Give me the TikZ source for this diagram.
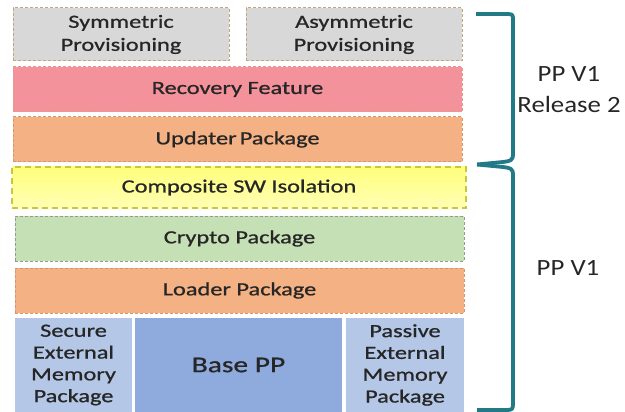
\documentclass[tikz,border=0pt]{standalone}
\usepackage{fontspec}
\newfontfamily\boxfont{Carlito}[FakeStretch=1.31, FakeBold=0.9]
\newfontfamily\sidefont{Carlito}[FakeStretch=1.15]
\definecolor{txt}{HTML}{262626}
\definecolor{grayfill}{HTML}{D8D8D8}
\definecolor{grayedge}{HTML}{C4A67C}
\definecolor{pinkfill}{HTML}{F4929C}
\definecolor{pinkedge}{HTML}{E39A86}
\definecolor{orangefill}{HTML}{F4B183}
\definecolor{orangeedge}{HTML}{D8946A}
\definecolor{yeltop}{HTML}{FFFF7C}
\definecolor{yelbot}{HTML}{FFFFB4}
\definecolor{yeledge}{HTML}{C8C83C}
\definecolor{greenfill}{HTML}{C6E0B6}
\definecolor{greenedge}{HTML}{8E9E8C}
\definecolor{lightblue}{HTML}{B4C7E7}
\definecolor{midblue}{HTML}{8FAADC}
\definecolor{teal}{HTML}{217A86}
\tikzset{
  layer/.style={rectangle, inner sep=0pt, line width=1pt,
    dash pattern=on 3pt off 2pt, text=txt, align=center,
    font=\boxfont\fontsize{18.6}{23}\selectfont},
  graybox/.style={layer, fill=grayfill, draw=grayedge},
  pinkbox/.style={layer, fill=pinkfill, draw=pinkedge},
  orangebox/.style={layer, fill=orangefill, draw=orangeedge},
  yellowbox/.style={layer, top color=yeltop, bottom color=yelbot, draw=yeledge,
    line width=1.5pt, dash pattern=on 6pt off 4pt},
  greenbox/.style={layer, fill=greenfill, draw=greenedge},
  membox/.style={rectangle, inner sep=0pt, text=txt, align=center,
    font=\boxfont\fontsize{18.6}{21.8}\selectfont},
  sidelabel/.style={text=txt, align=center, inner sep=0pt,
    font=\sidefont\fontsize{23.3}{31}\selectfont},
  bracket/.style={draw=teal, line width=3.8pt, line cap=butt, line join=round}
}
\begin{document}
\begin{tikzpicture}[x=1pt, y=-1pt]
\useasboundingbox (0,0) rectangle (625,412);
% top row
\node[graybox, minimum width=216pt, minimum height=53pt] (sym) at (121,34.5) {Symmetric\\Provisioning};
\node[graybox, minimum width=216pt, minimum height=53pt] (asym) at (354,34.5) {Asymmetric\\Provisioning};
\node[pinkbox, minimum width=449pt, minimum height=45pt] (rec) at (237.5,89.5) {Recovery Feature};
\node[orangebox, minimum width=449pt, minimum height=45pt] (upd) at (237.5,139.5) {Updater\,Package};
\node[yellowbox, minimum width=454pt, minimum height=41pt] (comp) at (239,187.5) {Composite SW Isolation};
\node[greenbox, minimum width=449pt, minimum height=45pt] (cry) at (239.5,238.5) {Crypto Package};
\node[orangebox, minimum width=449pt, minimum height=45pt] (load) at (239.5,290.5) {Loader Package};
% bottom row
\node[membox, fill=lightblue, minimum width=117pt, minimum height=94pt] (sec) at (73.5,365) {Secure\\External\\Memory\\Package};
\node[membox, fill=midblue, minimum width=207pt, minimum height=94pt,
      font=\boxfont\fontsize{22.5}{26}\selectfont] (base) at (238.5,365) {Base PP};
\node[membox, fill=lightblue, minimum width=118pt, minimum height=94pt] (pas) at (405,365) {Passive\\External\\Memory\\Package};
% brackets
\coordinate (b1s) at (476,14);
\coordinate (tip) at (477,164.5);
\coordinate (b2e) at (477,410);
\draw[bracket] (b1s) -- (507,14) .. controls (513,14) and (513,15) .. (513,20)
  -- (513,154) .. controls (513,161) and (510,161) .. (503,162) -- (tip);
\draw[bracket] (tip) -- (503,167) .. controls (510,168) and (513,168) .. (513,175)
  -- (513,404) .. controls (513,409) and (512,410) .. (507,410) -- (b2e);
% labels
\node[sidelabel] (rel2) at (569,90) {PP V1\\Release 2};
\node[sidelabel] (v1) at (568,268) {PP V1};
\end{tikzpicture}
\end{document}
